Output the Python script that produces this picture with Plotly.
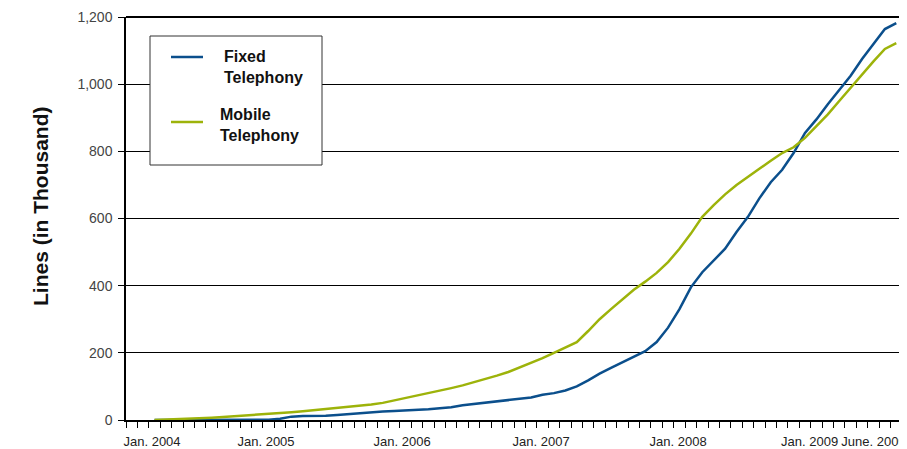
import plotly.graph_objects as go

# Monthly observations, Jan. 2004 .. June 2009 (x = months since Jan. 2004)
month_offset = list(range(66))

fixed_telephony = [
    0, 0, 0, 0, 0, 1, 1, 1, 1, 1, 1, 4,               # 2004
    10, 12, 12, 13, 15, 18, 20, 22, 25, 27, 28, 30,   # 2005
    32, 35, 38, 44, 48, 52, 55, 58, 62, 67, 75, 80,   # 2006
    88, 100, 118, 138, 155, 172, 188, 205, 232, 275, 330, 395,   # 2007
    440, 475, 510, 560, 605, 660, 708, 745, 795, 855, 895, 940,  # 2008
    982, 1025, 1075, 1120, 1164, 1182,                # 2009
]
mobile_telephony = [
    0, 1, 2, 4, 6, 7, 9, 11, 13, 15, 18, 20,
    23, 26, 29, 32, 35, 38, 42, 46, 51, 58, 66, 74,
    81, 88, 95, 103, 112, 122, 132, 143, 156, 170, 184, 200,
    215, 232, 265, 300, 330, 360, 388, 412, 438, 470, 510, 555,
    605, 640, 672, 700, 725, 748, 772, 795, 812, 840, 875, 910,
    950, 990, 1030, 1068, 1105, 1122,
]

tick_labels = ["Jan. 2004", "Jan. 2005", "Jan. 2006", "Jan. 2007",
               "Jan. 2008", "Jan. 2009", "June. 2009"]
tick_positions = [-0.22, 9.77, 21.69, 33.87, 45.88, 57.4, 63.0]

y_ticks = [0, 200, 400, 600, 800, 1000, 1200]

BLUE = "#0b4f8c"
GREEN = "#9db30a"
FONT = "Liberation Sans, Arial, sans-serif"

fig = go.Figure()
fig.add_trace(go.Scatter(x=month_offset, y=fixed_telephony, mode="lines",
                         name="Fixed Telephony", line=dict(color=BLUE, width=2.5),
                         showlegend=False))
fig.add_trace(go.Scatter(x=month_offset, y=mobile_telephony, mode="lines",
                         name="Mobile Telephony", line=dict(color=GREEN, width=2.5),
                         showlegend=False))

# page has an 8px body margin: size the figure so it fits the 907x449 window
W, H = 899, 441
L, R, T, B = 118, 5, 9, 29
PLOT_L, PLOT_R, PLOT_T, PLOT_B = 126, 902, 17, 420
pw, ph = PLOT_R - PLOT_L, PLOT_B - PLOT_T


def px(x):
    return (x - PLOT_L) / pw


def py(y):
    return (PLOT_B - y) / ph


# frame: thick black top, thin grey right
fig.add_shape(type="line", xref="paper", yref="paper", x0=0, x1=1, y0=1, y1=1,
              line=dict(color="black", width=2))
fig.add_shape(type="line", xref="paper", yref="paper", x0=1, x1=1, y0=0, y1=1,
              line=dict(color="#555555", width=1))

# Legend box (manual)
fig.add_shape(type="rect", xref="paper", yref="paper",
              x0=px(150), x1=px(322), y0=py(165), y1=py(36),
              line=dict(color="#333333", width=1), fillcolor="white", layer="above")
fig.add_shape(type="line", xref="paper", yref="paper",
              x0=px(171), x1=px(203), y0=py(57), y1=py(57),
              line=dict(color=BLUE, width=2.5), layer="above")
fig.add_shape(type="line", xref="paper", yref="paper",
              x0=px(171), x1=px(203), y0=py(122), y1=py(122),
              line=dict(color=GREEN, width=2.5), layer="above")
fig.add_annotation(xref="paper", yref="paper", x=px(222), y=py(67),
                   text="<b>Fixed<br>Telephony</b>", showarrow=False,
                   xanchor="left", yanchor="middle", align="left",
                   font=dict(family=FONT, size=16, color="#111111"))
fig.add_annotation(xref="paper", yref="paper", x=px(218), y=py(125),
                   text="<b>Mobile<br>Telephony</b>", showarrow=False,
                   xanchor="left", yanchor="middle", align="left",
                   font=dict(family=FONT, size=16, color="#111111"))

# Y axis title
fig.add_annotation(xref="paper", yref="paper", x=px(40), y=py(206),
                   text="<b>Lines (in Thousand)</b>", showarrow=False, textangle=-90,
                   xanchor="center", yanchor="middle",
                   font=dict(family=FONT, size=21, color="#111111"))

fig.update_layout(
    width=W, height=H,
    margin=dict(l=L, r=R, t=T, b=B, pad=0, autoexpand=False),
    paper_bgcolor="white", plot_bgcolor="white",
    font=dict(family=FONT, color="#333333"),
    xaxis=dict(range=[-2.5, 65.5], showgrid=False, zeroline=False, automargin=False,
               tickmode="array", tickvals=tick_positions, ticktext=tick_labels,
               ticks="", ticklabelstandoff=9, ticklabeloverflow="allow",
               tickfont=dict(size=13, color="#222222"),
               showline=True, linecolor="black", linewidth=1.5, mirror=False,
               minor=dict(tick0=-2.5, dtick=1, ticks="outside", ticklen=6,
                          tickcolor="black", tickwidth=1, showgrid=False)),
    yaxis=dict(range=[0, 1200], tickmode="array", tickvals=y_ticks, automargin=False,
               tickformat=",", ticks="outside", ticklen=6, tickcolor="black",
               ticklabelstandoff=3,
               showgrid=True, gridcolor="black", gridwidth=1, zeroline=False,
               showline=True, linecolor="black", linewidth=1.5, mirror=False,
               tickfont=dict(size=14, color="#444444")),
)

fig.write_html("out.html")
